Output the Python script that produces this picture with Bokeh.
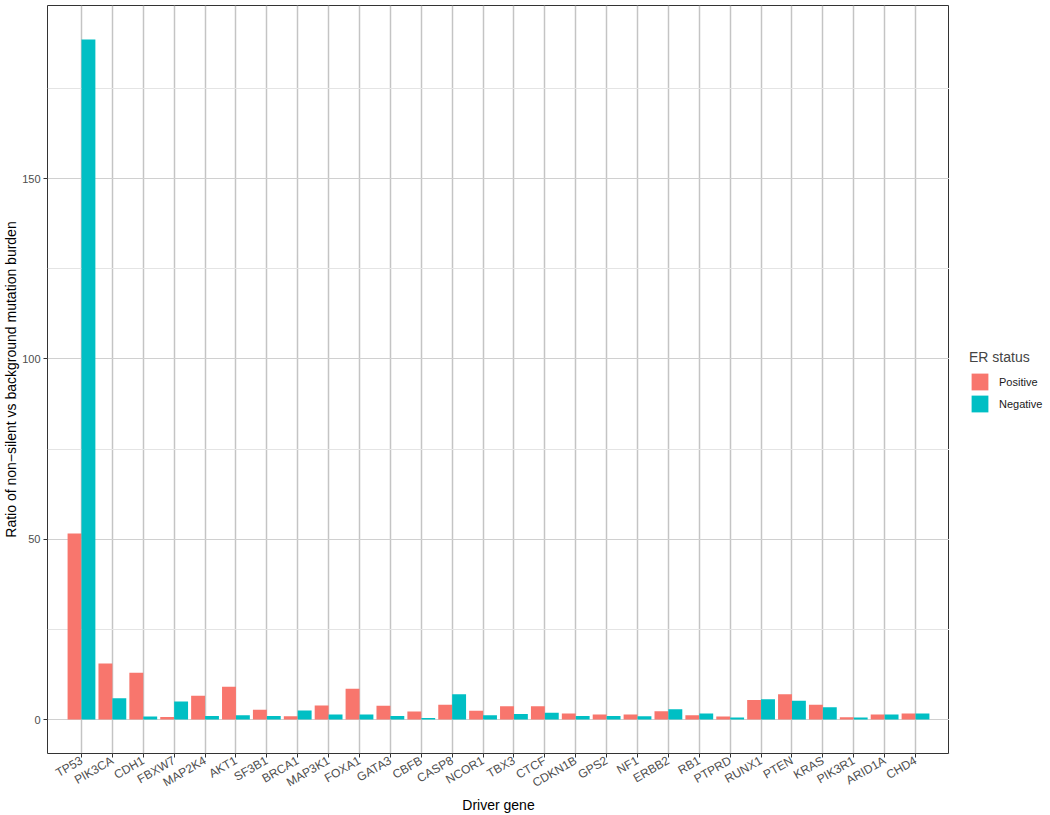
import math
from bokeh.plotting import figure
from bokeh.layouts import row
from bokeh.models import (FactorRange, Range1d, FixedTicker, Legend, LegendItem,
                          ColumnDataSource)
from bokeh.transform import dodge
from bokeh.embed import file_html
from bokeh.resources import INLINE

genes = ["TP53", "PIK3CA", "CDH1", "FBXW7", "MAP2K4", "AKT1", "SF3B1", "BRCA1",
         "MAP3K1", "FOXA1", "GATA3", "CBFB", "CASP8", "NCOR1", "TBX3", "CTCF",
         "CDKN1B", "GPS2", "NF1", "ERBB2", "RB1", "PTPRD", "RUNX1", "PTEN",
         "KRAS", "PIK3R1", "ARID1A", "CHD4"]
positive = [51.6, 15.5, 13.0, 0.7, 6.6, 9.1, 2.7, 0.9, 3.9, 8.5, 3.8, 2.2, 4.1, 2.4,
            3.7, 3.7, 1.65, 1.4, 1.4, 2.3, 1.2, 0.83, 5.4, 7.0, 4.1, 0.65, 1.4, 1.65]
negative = [188.6, 5.9, 0.8, 5.0, 1.0, 1.2, 1.0, 2.5, 1.4, 1.4, 1.0, 0.4, 7.0, 1.2,
            1.5, 1.9, 1.0, 1.0, 0.9, 2.85, 1.65, 0.55, 5.6, 5.2, 3.4, 0.55, 1.4, 1.65]
y_ticks = [0, 50, 100, 150]
y_minor = [25, 75, 125, 175]
series_names = ["Positive", "Negative"]
colors = ["#F8766D", "#00BFC4"]

src = ColumnDataSource(dict(gene=genes, pos=positive, neg=negative))

ymax = max(max(positive), max(negative))
pad = ymax * 0.05

p = figure(
    x_range=FactorRange(factors=genes, range_padding=0.6, range_padding_units="absolute"),
    y_range=Range1d(-pad, ymax + pad),
    frame_width=902, frame_height=748,
    min_border_left=46, min_border_right=0, min_border_top=5, min_border_bottom=0,
    output_backend="svg", toolbar_location=None,
    x_axis_label="Driver gene",
    y_axis_label="Ratio of non\u2212silent vs background mutation burden",
)
p.background_fill_color = "white"
p.border_fill_color = "white"
p.outline_line_color = "#333333"
p.outline_line_width = 1

r1 = p.vbar(x=dodge("gene", -0.225, range=p.x_range), top="pos", bottom=0,
            width=0.45, source=src, fill_color=colors[0], line_color=None)
r2 = p.vbar(x=dodge("gene", 0.225, range=p.x_range), top="neg", bottom=0,
            width=0.45, source=src, fill_color=colors[1], line_color=None)

# grids
p.xgrid.grid_line_color = "#c4c4c4"
p.xgrid.grid_line_width = 1.5
p.ygrid.ticker = FixedTicker(ticks=y_ticks, minor_ticks=y_minor)
p.ygrid.grid_line_color = "#d0d0d0"
p.ygrid.grid_line_width = 1
p.ygrid.minor_grid_line_color = "#e4e4e4"
p.ygrid.minor_grid_line_width = 1
p.xgrid.level = "underlay"
p.ygrid.level = "underlay"

# axes
p.yaxis.ticker = FixedTicker(ticks=y_ticks, minor_ticks=y_minor)
for ax in (p.xaxis[0], p.yaxis[0]):
    ax.axis_line_color = None
    ax.major_tick_line_color = "#333333"
    ax.major_tick_in = 0
    ax.major_tick_out = 4
    ax.minor_tick_line_color = None
    ax.major_label_text_font = "Liberation Sans"
    ax.major_label_text_color = "#4d4d4d"
    ax.axis_label_text_font = "Liberation Sans"
    ax.axis_label_text_font_size = "14px"
    ax.axis_label_text_font_style = "normal"
    ax.axis_label_text_color = "black"
p.xaxis.major_label_text_font_size = "12px"
p.yaxis.major_label_text_font_size = "11px"
p.xaxis.major_label_standoff = 2
p.yaxis.major_label_standoff = 3
p.xaxis.major_label_orientation = math.pi / 6
p.xaxis.axis_label_standoff = -2
p.yaxis.axis_label_standoff = 0

# legend in a separate narrow panel on the right (frame aligned with main plot)
lf = figure(width=102, height=815, x_range=Range1d(0, 1), y_range=Range1d(0, 1),
            min_border=0, output_backend="svg", toolbar_location=None,
            x_axis_type=None, y_axis_type=None)
lf.outline_line_color = None
lf.grid.visible = False
# swatch-only renderers: their single point lies outside the visible range
lr1 = lf.vbar(x=[-5], top=[-5], bottom=[-6], width=0.1, fill_color=colors[0], line_color=None)
lr2 = lf.vbar(x=[-5], top=[-5], bottom=[-6], width=0.1, fill_color=colors[1], line_color=None)

legend = Legend(
    items=[LegendItem(label=series_names[0], renderers=[lr1]),
           LegendItem(label=series_names[1], renderers=[lr2])],
    title="ER status",
    location=(20, 339),
)
legend.title_text_font = "Liberation Sans"
legend.title_text_font_size = "14px"
legend.title_text_font_style = "normal"
legend.title_standoff = 6
legend.label_text_font = "Liberation Sans"
legend.label_text_font_size = "11px"
legend.label_text_color = "#1a1a1a"
legend.glyph_width = 21
legend.glyph_height = 21
legend.label_height = 21
legend.label_standoff = 9
legend.spacing = 1
legend.padding = 0
legend.margin = 0
legend.border_line_color = None
legend.background_fill_alpha = 0
lf.add_layout(legend, "center")

layout = row(p, lf)
open("out.html", "w").write(file_html(layout, INLINE))
